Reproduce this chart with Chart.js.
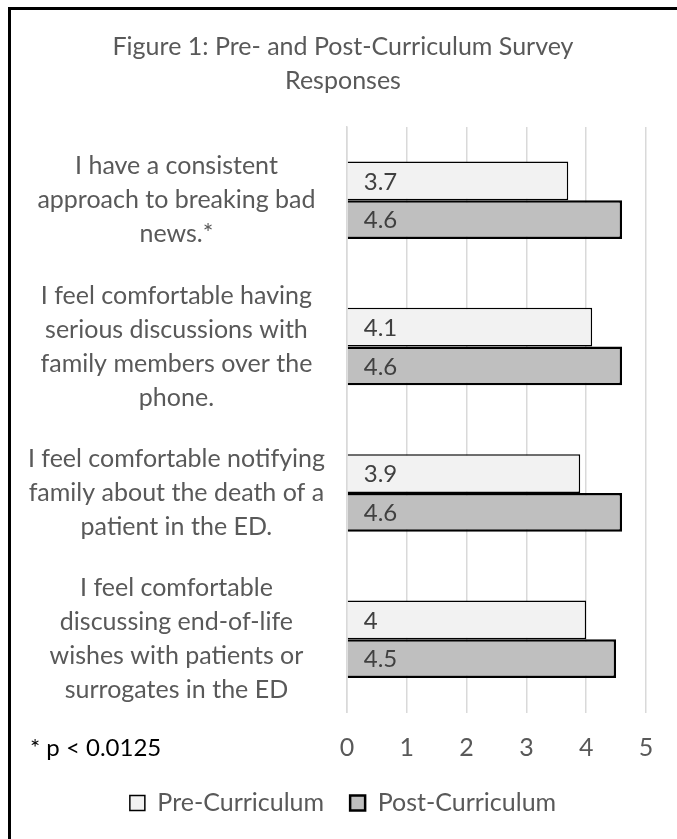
<!DOCTYPE html>
<html><head><meta charset="utf-8">
<script src="https://cdn.jsdelivr.net/npm/chart.js@4/dist/chart.umd.min.js"></script>
<style>
html,body{margin:0;padding:0;background:#fff;overflow:hidden;width:677px;height:839px;}
#wrap{position:absolute;left:0;top:0;width:677px;height:839px;}
#frame{position:absolute;left:8px;top:7px;width:720px;height:900px;border-left:3px solid #000;border-top:3px solid #000;box-sizing:border-box;pointer-events:none;}
#note{position:absolute;left:30px;top:732px;font-family:Lato,sans-serif;font-size:24px;color:#000;line-height:30px;white-space:nowrap;}
</style></head>
<body>
<div id="wrap"><canvas id="c" width="677" height="839"></canvas></div>
<div id="frame"></div>
<div id="note">* p &lt; 0.0125</div>
<script>
const titleLines = ["Figure 1: Pre- and Post-Curriculum Survey", "Responses"];
const categories = [
  ["I have a consistent", "approach to breaking bad", "news.*"],
  ["I feel comfortable having", "serious discussions with", "family members over the", "phone."],
  ["I feel comfortable notifying", "family about the death of a", "patient in the ED."],
  ["I feel comfortable", "discussing end-of-life", "wishes with patients or", "surrogates in the ED"]
];
const seriesNames = ["Pre-Curriculum", "Post-Curriculum"];
const preValues = [3.7, 4.1, 3.9, 4];
const postValues = [4.6, 4.6, 4.6, 4.5];
const xTicks = [0, 1, 2, 3, 4, 5];

const FONT = "Lato";
const valueLabels = {
  id: "valueLabels",
  afterDatasetsDraw(chart) {
    const ctx = chart.ctx;
    ctx.save();
    ctx.font = "24px " + FONT;
    ctx.fillStyle = "#404040";
    ctx.textAlign = "left";
    ctx.textBaseline = "middle";
    chart.data.datasets.forEach((ds, di) => {
      chart.getDatasetMeta(di).data.forEach((el, i) => {
        ctx.fillText(String(ds.data[i]), el.base + 16, el.y + 1);
      });
    });
    ctx.restore();
  }
};
// let the wrapped category labels extend past the axis box (no label clipping)
const noLabelClip = {
  id: "noLabelClip",
  beforeDraw(chart) {
    const y = chart.scales.y;
    if (y) y._computeLabelArea = function () { return undefined; };
  }
};

const chart = new Chart(document.getElementById("c"), {
  type: "bar",
  data: {
    labels: categories,
    datasets: [
      { label: seriesNames[0], data: preValues, backgroundColor: "#f2f2f2", borderColor: "#000", borderWidth: 1.5, borderSkipped: "start" },
      { label: seriesNames[1], data: postValues, backgroundColor: "#bfbfbf", borderColor: "#000", borderWidth: 2.5, borderSkipped: "start" }
    ]
  },
  options: {
    indexAxis: "y",
    responsive: false,
    animation: false,
    devicePixelRatio: 1,
    layout: { padding: { left: 40, right: 31, top: 10, bottom: 13.5 } },
    datasets: { bar: { barPercentage: 1.0, categoryPercentage: 0.53 } },
    scales: {
      x: {
        min: 0, max: 5,
        afterBuildTicks(scale) { scale.ticks = xTicks.map(v => ({ value: v })); },
        afterFit(scale) { scale.height = 52; },
        grid: { color: "#d9d9d9", lineWidth: 1.5, drawTicks: false },
        border: { display: false },
        ticks: { color: "#595959", font: { family: FONT, size: 25, lineHeight: "30px" }, padding: 20 }
      },
      y: {
        grid: { display: false, drawTicks: false },
        border: { display: true, color: "#d9d9d9", width: 1.5 },
        afterFit(scale) { scale.width = 307; },
        ticks: { color: "#595959", font: { family: FONT, size: 25, lineHeight: "34px" }, crossAlign: "center", padding: 22, autoSkip: false }
      }
    },
    plugins: {
      title: {
        display: true, text: titleLines, color: "#595959",
        font: { family: FONT, size: 25, weight: "normal", lineHeight: "34px" },
        padding: { top: 20, bottom: 29 }
      },
      legend: {
        position: "bottom",
        labels: { color: "#595959", font: { family: FONT, size: 25 }, boxWidth: 15, boxHeight: 15, padding: 26 }
      },
      tooltip: { enabled: false }
    }
  },
  plugins: [valueLabels, noLabelClip]
});
</script>
</body></html>
